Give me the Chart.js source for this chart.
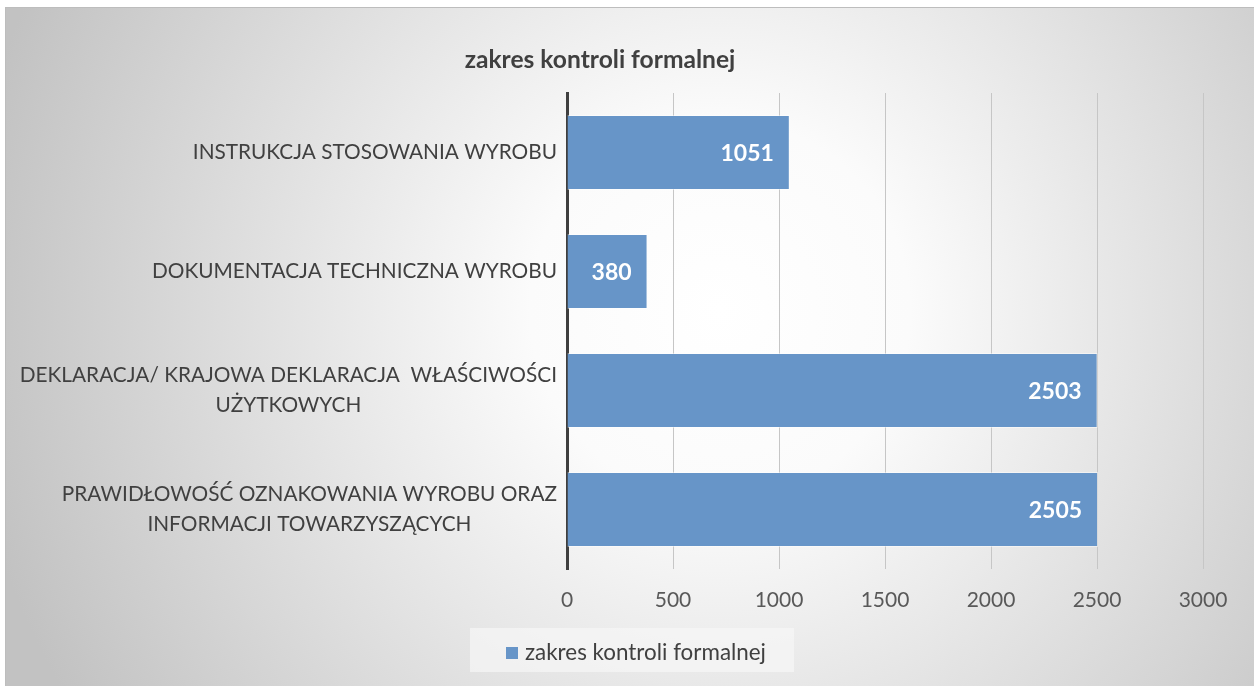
<!DOCTYPE html>
<html>
<head>
<meta charset="utf-8">
<script src="https://cdn.jsdelivr.net/npm/chart.js@4/dist/chart.umd.min.js"></script>
<style>
html,body{margin:0;padding:0;background:#fff;}
#wrap{position:relative;width:1254px;height:686px;}
</style>
</head>
<body>
<div id="wrap"><canvas id="c" width="1254" height="686"></canvas></div>
<script>
const chartTitle = 'zakres kontroli formalnej';
const seriesName = 'zakres kontroli formalnej';
const categories = [
  ['INSTRUKCJA STOSOWANIA WYROBU'],
  ['DOKUMENTACJA TECHNICZNA WYROBU'],
  ['DEKLARACJA/ KRAJOWA DEKLARACJA  WŁAŚCIWOŚCI', 'UŻYTKOWYCH'],
  ['PRAWIDŁOWOŚĆ OZNAKOWANIA WYROBU ORAZ', 'INFORMACJI TOWARZYSZĄCYCH']
];
const values = [1051, 380, 2503, 2505];
const xMin = 0, xMax = 3000, xStep = 500;

const FONT = 'Lato, "Open Sans", sans-serif';
const BAR_COLOR = '#6795c8';

const bgPlugin = {
  id: 'bg',
  beforeDraw(chart) {
    const ctx = chart.ctx;
    ctx.save();
    ctx.fillStyle = '#ffffff';
    ctx.fillRect(0, 0, chart.width, chart.height);
    const g = ctx.createRadialGradient(720, 310, 0, 720, 310, 760);
    g.addColorStop(0, '#ffffff');
    g.addColorStop(0.25, '#fbfbfb');
    g.addColorStop(1, '#c2c2c2');
    ctx.fillStyle = g;
    ctx.fillRect(5, 7, chart.width - 5, chart.height - 7);
    ctx.fillStyle = '#bdbdbd';
    ctx.fillRect(5, 7, chart.width - 5, 1);
    ctx.fillRect(5, 7, 1, chart.height - 7);
    // title
    ctx.fillStyle = '#404040';
    ctx.font = 'bold 24.6px ' + FONT;
    ctx.textAlign = 'center';
    ctx.textBaseline = 'middle';
    ctx.fillText(chartTitle, 600, 60);
    // legend
    ctx.fillStyle = 'rgba(246,246,246,0.7)';
    ctx.fillRect(470, 628, 324, 44);
    ctx.fillStyle = BAR_COLOR;
    ctx.fillRect(506, 647, 12, 12);
    ctx.fillStyle = '#404040';
    ctx.font = '22.4px ' + FONT;
    ctx.textAlign = 'left';
    ctx.fillText(seriesName, 525, 653);
    ctx.restore();
  },
  afterDatasetsDraw(chart) {
    const ctx = chart.ctx;
    const meta = chart.getDatasetMeta(0);
    ctx.save();
    ctx.fillStyle = '#ffffff';
    ctx.font = 'bold 23px ' + FONT;
    ctx.textAlign = 'right';
    ctx.textBaseline = 'middle';
    meta.data.forEach((bar, i) => {
      ctx.fillText(String(chart.data.datasets[0].data[i]), bar.x - 16, bar.y + 1);
    });
    // y labels
    const ys = chart.scales.y;
    ctx.fillStyle = '#404040';
    ctx.font = '20.8px ' + FONT;
    ctx.textAlign = 'center';
    const lh = 30;
    categories.forEach((lines, i) => {
      const cy = ys.getPixelForValue(i);
      const maxW = Math.max(...lines.map(l => ctx.measureText(l).width));
      const cx = 557 - maxW / 2;
      lines.forEach((l, j) => {
        const y = cy + (j - (lines.length - 1) / 2) * lh;
        ctx.fillText(l, cx, y);
      });
    });
    ctx.restore();
  }
};

new Chart(document.getElementById('c'), {
  type: 'bar',
  data: {
    labels: categories.map(c => c.join(' ')),
    datasets: [{
      label: seriesName,
      data: values,
      backgroundColor: BAR_COLOR,
      borderColor: 'rgba(255,255,255,0.45)',
      borderWidth: 1,
      categoryPercentage: 1,
      barPercentage: 0.63
    }]
  },
  options: {
    indexAxis: 'y',
    responsive: false,
    animation: false,
    devicePixelRatio: 1,
    layout: { padding: { top: 93, left: 0, right: 51, bottom: 67 } },
    plugins: { legend: { display: false }, title: { display: false }, tooltip: { enabled: false } },
    scales: {
      x: {
        type: 'linear',
        min: xMin, max: xMax,
        ticks: {
          stepSize: xStep, color: '#595959', font: { family: FONT, size: 21 }, padding: 19,
          callback: v => String(v)
        },
        grid: {
          color: ctx => ctx.index === 0 ? 'rgba(0,0,0,0)' : '#c6c6c6',
          lineWidth: 1,
          drawTicks: false,
          tickLength: 0
        },
        border: { display: false },
        afterFit: s => { s.height = 50; }
      },
      y: {
        type: 'category',
        ticks: { display: false },
        grid: { display: false, drawTicks: false },
        border: { display: true, color: '#3f3f3f', width: 3 },
        afterFit: s => { s.width = 567; }
      }
    }
  },
  plugins: [bgPlugin]
});
</script>
</body>
</html>
